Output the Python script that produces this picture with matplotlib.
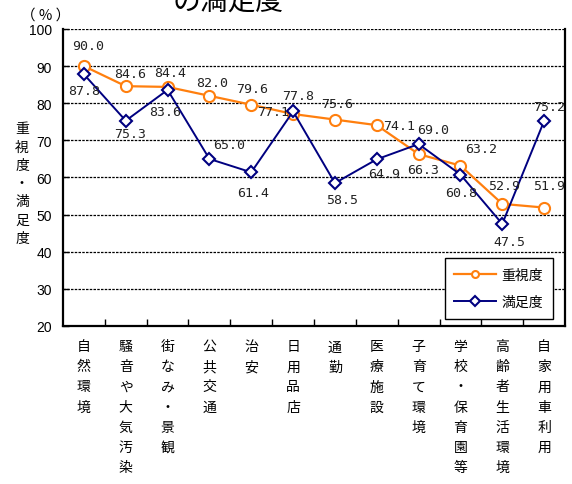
import matplotlib
matplotlib.use('Agg')
import matplotlib.pyplot as plt

plt.rcParams['font.family'] = ['Noto Sans CJK JP', 'DejaVu Sans']

# 項目と値
categories = ['自然環境', '騒音や大気汚染', '街なみ・景観', '公共交通', '治安', '日用品店',
              '通勤', '医療施設', '子育て環境', '学校・保育園等', '高齢者生活環境', '自家用車利用']
importance = [90.0, 84.6, 84.4, 82.0, 79.6, 77.1, 75.6, 74.1, 66.3, 63.2, 52.9, 51.9]
satisfaction = [87.8, 75.3, 83.6, 65.0, 61.4, 77.8, 58.5, 64.9, 69.0, 60.8, 47.5, 75.2]

# ラベル位置の微調整 (pixel)
imp_off = [(4, 21), (4, 13), (3, 14), (3, 13), (1, 16), (-20, 3),
           (2, 16), (22, 0), (5, -15), (21, 17), (2, 18), (5, 22)]
sat_off = [(0, -16), (4, -13), (-2, -22), (20, 14), (2, -20), (5, 16),
           (7, -16), (7, -14), (15, 15), (1, -18), (7, -18), (5, 15)]

ORANGE = '#FF7F0E'
NAVY = '#000080'

W, H = 572, 485
fig = plt.figure(figsize=(W / 100, H / 100), dpi=100)
ax = fig.add_axes([63 / W, 1 - 327 / H, (565 - 63) / W, (327 - 30) / H])

x = list(range(len(categories)))
ax.plot(x, importance, color=ORANGE, lw=1.6, marker='o', ms=8, mfc='white',
        mec=ORANGE, mew=1.5, label='重視度', zorder=3)
ax.plot(x, satisfaction, color=NAVY, lw=1.4, marker='D', ms=6.5, mfc='white',
        mec=NAVY, mew=1.5, label='満足度', zorder=4)

for i, v in enumerate(importance):
    ax.annotate(f'{v:.1f}', (i, v), xytext=imp_off[i], textcoords='offset pixels',
                ha='center', va='center', fontsize=9.5, family='DejaVu Sans Mono',
                color='#222222', zorder=5)
for i, v in enumerate(satisfaction):
    ax.annotate(f'{v:.1f}', (i, v), xytext=sat_off[i], textcoords='offset pixels',
                ha='center', va='center', fontsize=9.5, family='DejaVu Sans Mono',
                color='#222222', zorder=5)

ax.set_xlim(-0.5, len(categories) - 0.5)
ax.set_ylim(20, 100)

# 点線グリッド
for g in range(30, 101, 10):
    ax.axhline(g, color='black', lw=0.9, ls=(0, (2, 1)), zorder=1)

ax.spines['top'].set_visible(False)
for s in ('left', 'right', 'bottom'):
    ax.spines[s].set_linewidth(1.6)
    ax.spines[s].set_color('black')

ax.set_yticks(range(20, 101, 10))
ax.set_yticklabels([str(t) for t in range(20, 101, 10)], family='Liberation Sans', fontsize=10)
ax.tick_params(axis='y', direction='in', length=4, width=1, pad=8)
ax.set_xticks([i + 0.5 for i in range(len(categories) - 1)])
ax.set_xticklabels([])
ax.tick_params(axis='x', direction='in', length=5, width=1)

# 縦書きの項目名
for i, c in enumerate(categories):
    ax.text(i, -0.045, '\n'.join(c), transform=ax.get_xaxis_transform(),
            ha='center', va='top', fontsize=10, linespacing=1.55)

fig.text(22 / W, 1 - 184 / H, '\n'.join('重視度・満足度'), ha='center', va='center',
         fontsize=10, linespacing=1.38)
fig.text(46 / W, 1 - 16 / H, '（ % ）', ha='center', va='center', fontsize=10.5)
fig.text(228 / W, 1 - 11 / H, 'の満足度', ha='center', va='baseline', fontsize=20)

leg = ax.legend(loc='lower right', bbox_to_anchor=(553 / W, 1 - 320 / H),
                bbox_transform=fig.transFigure, fancybox=False, edgecolor='black',
                framealpha=1, fontsize=10, handlelength=3.0, borderpad=0.7,
                labelspacing=0.95, handletextpad=0.4, borderaxespad=0)
leg.get_frame().set_linewidth(1.0)
for h in leg.legend_handles:
    h.set_markersize(5)

fig.savefig('out.png', dpi=100)
